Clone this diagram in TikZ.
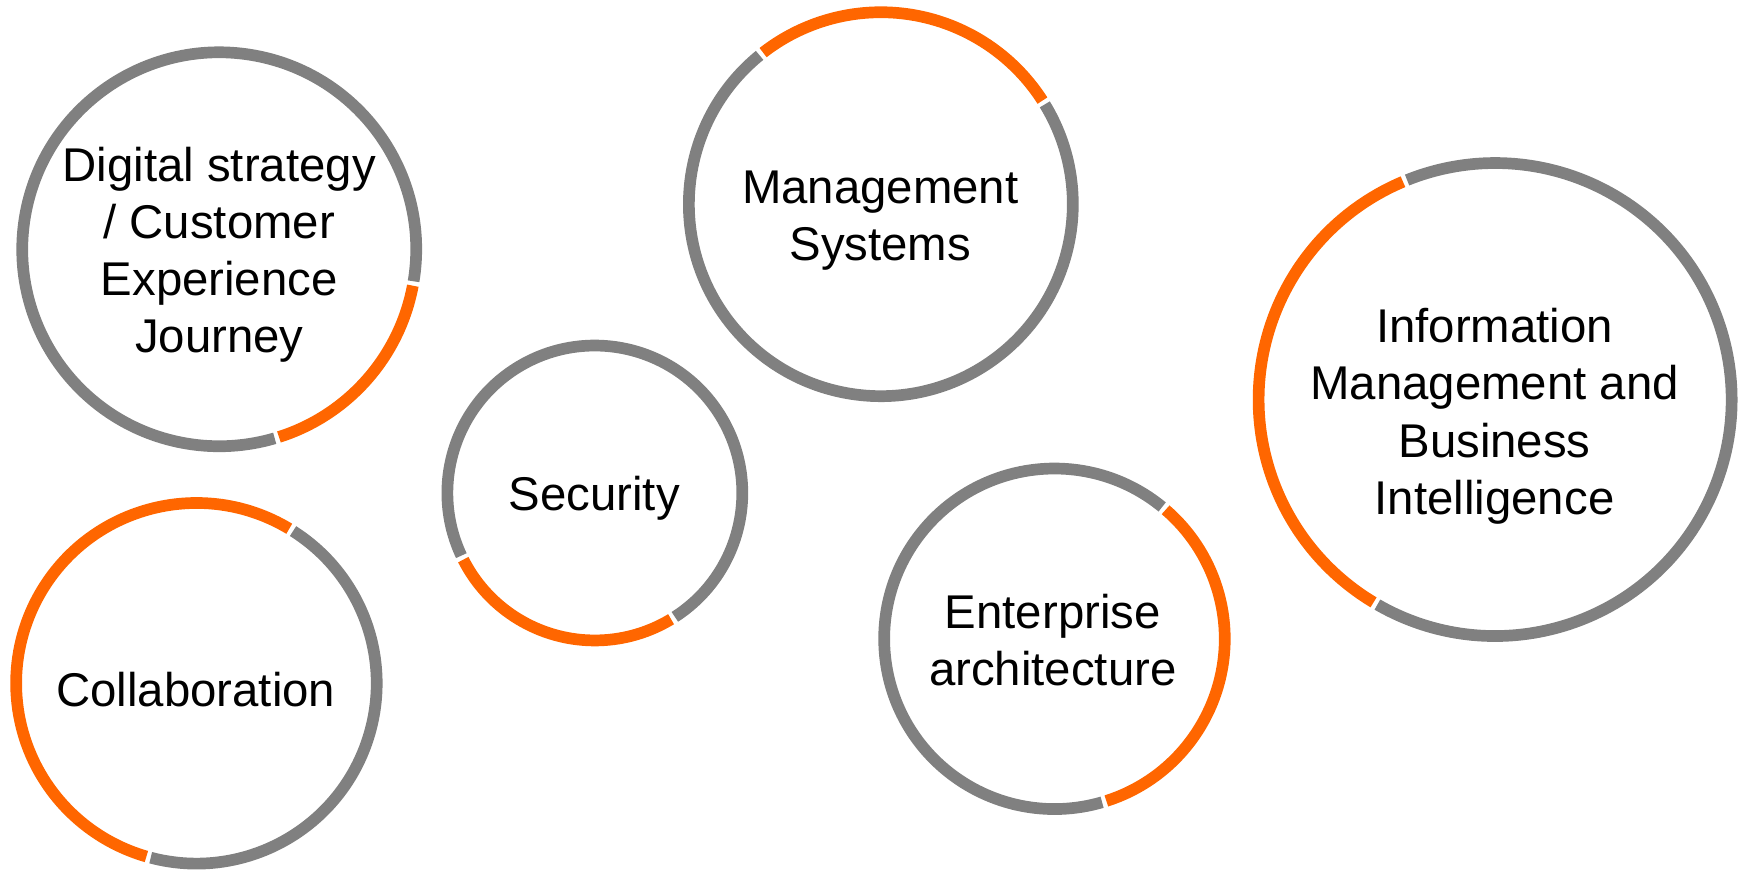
\documentclass[tikz,border=0pt]{standalone}
\usepackage{fontspec}
\setmainfont{Liberation Sans}
\usetikzlibrary{calc}
\definecolor{ringgray}{HTML}{808080}
\definecolor{ringorange}{HTML}{FF6600}
\tikzset{
  grayarc/.style={draw=ringgray, line width=0.105cm, line cap=butt},
  orangearc/.style={draw=ringorange, line width=0.105cm, line cap=butt},
  label/.style={align=center, font=\fontsize{12.1}{14.6}\selectfont, text=black, inner sep=0pt}
}
\newcommand\myring[5]{%
  \coordinate (#1) at (#2);
  \pgfmathsetmacro\rr{#3*0.01}%
  \pgfmathsetmacro\hg{114.6/#3}%
  \pgfmathsetmacro\oa{#4+\hg}%
  \pgfmathsetmacro\ob{#5-\hg}%
  \pgfmathsetmacro\ga{#5+\hg}%
  \pgfmathsetmacro\gb{#4+360-\hg}%
  \draw[orangearc] ($(#1)+(\oa:\rr cm)$) arc[start angle=\oa, end angle=\ob, radius=\rr cm];
  \draw[grayarc] ($(#1)+(\ga:\rr cm)$) arc[start angle=\ga, end angle=\gb, radius=\rr cm];
}
\begin{document}
\begin{tikzpicture}[x=0.01cm,y=0.01cm]
\useasboundingbox (0,0) rectangle (1568,781);
\myring{c1}{197,557}{177}{-73}{-10}
\myring{c2}{791.5,597.5}{172.5}{32}{128.5}
\myring{c3}{1343.5,422}{212.5}{112.4}{239.6}
\myring{c4}{534.5,338}{132.5}{206}{302}
\myring{c5}{176.5,167}{162}{58.3}{254.6}
\myring{c6}{947.5,207}{153}{-73}{50}
\node[label] (t1) at (197,552) {Digital strategy\\/ Customer\\Experience\\Journey};
\node[label] (t2) at (791,583) {Management\\Systems};
\node[label] (t3) at (1343,407) {Information\\Management and\\Business\\Intelligence};
\node[label] (t4) at (534,333) {Security};
\node[label] (t5) at (176,161) {Collaboration};
\node[label] (t6) at (946,206) {Enterprise\\architecture};
\end{tikzpicture}
\end{document}
